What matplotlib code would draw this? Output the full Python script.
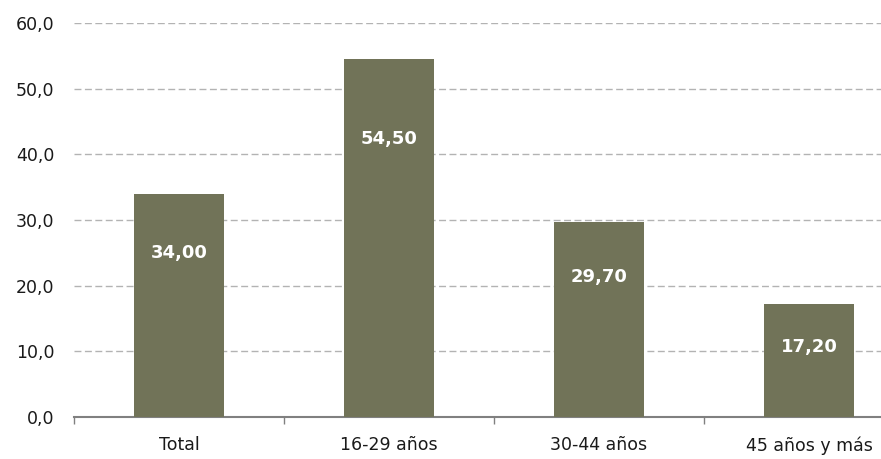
import matplotlib.pyplot as plt
import numpy as np

categories = ["Total", "16-29 años", "30-44 años", "45 años y más"]
values = [34.00, 54.50, 29.70, 17.20]

fig = plt.figure(figsize=(8.81, 4.59), dpi=100)
ax = fig.add_axes([74/881, 1 - 417/459, 840/881, 394/459])

x = np.arange(len(categories))
bars = ax.bar(x, values, width=0.43, color="#717358", zorder=3)

for xi, v in zip(x, values):
    ax.text(xi, 0.85 * v - 4, f"{v:.2f}".replace(".", ","), ha="center", va="center",
            color="white", fontsize=13, fontweight="bold", zorder=4)

ax.set_ylim(0, 60)
ax.set_xlim(-0.5, 3.5)
ticks = np.arange(0, 61, 10)
ax.set_yticks(ticks)
ax.set_yticklabels([f"{t:.1f}".replace(".", ",") for t in ticks], fontsize=12.5, color="#1a1a1a")
ax.yaxis.grid(True, linestyle=(0, (5, 2.5)), color="#b3b3b3", linewidth=1, zorder=0)
ax.tick_params(axis="y", length=0, pad=14)

ax.set_xticks(x)
ax.set_xticklabels(categories, fontsize=12.5, color="#1a1a1a")
ax.set_xticks(np.arange(-0.5, 4, 1), minor=True)
ax.tick_params(axis="x", which="major", length=0, pad=14)
ax.tick_params(axis="x", which="minor", length=5, color="#808080", width=1)

for s in ["left", "right", "top"]:
    ax.spines[s].set_visible(False)
ax.spines["bottom"].set_color("#808080")
ax.spines["bottom"].set_linewidth(1.5)

plt.savefig("out.png", dpi=100)
